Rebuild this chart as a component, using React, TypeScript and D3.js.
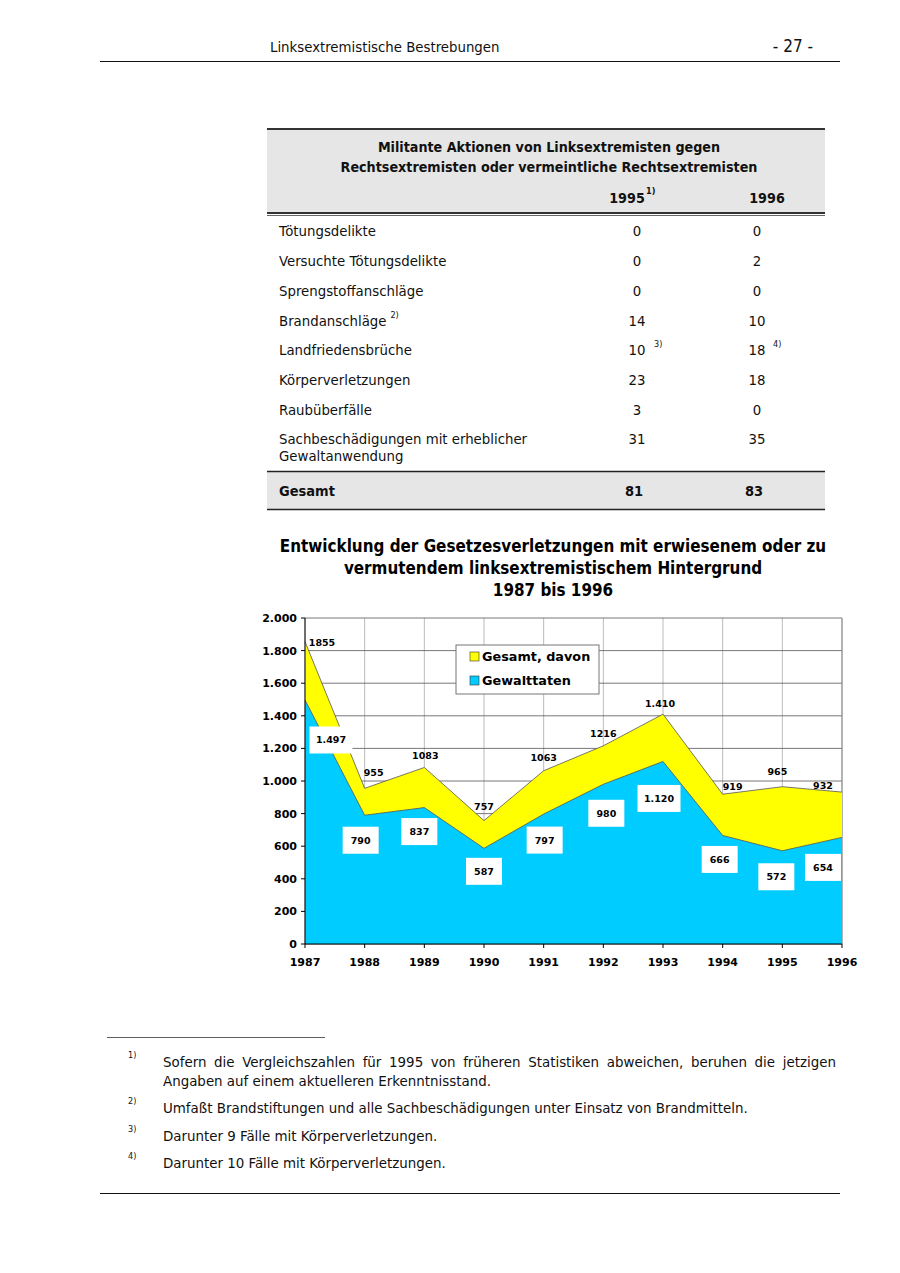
import React from 'react';
import * as d3 from 'd3';

// ---------- data ----------
const years = [1987, 1988, 1989, 1990, 1991, 1992, 1993, 1994, 1995, 1996];
const gesamt = [1855, 955, 1083, 757, 1063, 1216, 1410, 919, 965, 932];
const gewalt = [1497, 790, 837, 587, 797, 980, 1120, 666, 572, 654];
const gesamtLabels = ['1855', '955', '1083', '757', '1063', '1216', '1.410', '919', '965', '932'];
const gewaltLabels = ['1.497', '790', '837', '587', '797', '980', '1.120', '666', '572', '654'];
const yTicks = [0, 200, 400, 600, 800, 1000, 1200, 1400, 1600, 1800, 2000];

const tableRows = [
  ['Tötungsdelikte'],
  ['Versuchte Tötungsdelikte'],
  ['Sprengstoffanschläge'],
  ['Brandanschläge'],
  ['Landfriedensbrüche'],
  ['Körperverletzungen'],
  ['Raubüberfälle'],
  ['Sachbeschädigungen mit erheblicher', 'Gewaltanwendung'],
];
const rowNotes = ['', '', '', '2)', '', '', '', ''];
const v1995 = [0, 0, 0, 14, 10, 23, 3, 31];
const v1996 = [0, 2, 0, 10, 18, 18, 0, 35];
const note1995 = ['', '', '', '', '3)', '', '', ''];
const note1996 = ['', '', '', '', '4)', '', '', ''];
const total1995 = 81;
const total1996 = 83;

const footnotes = [
  ['1)', 'Sofern die Vergleichszahlen für 1995 von früheren Statistiken abweichen, beruhen die jetzigen', 'Angaben auf einem aktuelleren Erkenntnisstand.'],
  ['2)', 'Umfaßt Brandstiftungen und alle Sachbeschädigungen unter Einsatz von Brandmitteln.'],
  ['3)', 'Darunter 9 Fälle mit Körperverletzungen.'],
  ['4)', 'Darunter 10 Fälle mit Körperverletzungen.'],
];

// ---------- style ----------
const FONT = '"DejaVu Sans Condensed", "DejaVu Sans", sans-serif';
const FONTB = '"DejaVu Sans", sans-serif';
const YELLOW = '#FFFF00';
const CYAN = '#00CCFF';
const BODY = 14.8;
const gesamtOffsets = [[17, 1], [9, -16], [1, -12], [0, -14], [0, -13], [0, -12], [-3, -11], [10, -8], [-5, -15], [-19, -7]];
const gewaltOffsets = [[26, 40], [-4, 25], [-5, 24], [0, 23], [1, 26], [3, 29], [-4, 37], [-3, 24], [-6, 26], [-19, 30]];

const de = d3.formatLocale({ decimal: ',', thousands: '.', grouping: [3], currency: ['', '€'] });
const fmt = de.format(',');

function measure(text: string, font: string): number {
  const c = document.createElement('canvas').getContext('2d')!;
  c.font = font;
  return c.measureText(text).width;
}

function Justified({ text, x1, x2, y, font, size }: { text: string; x1: number; x2: number; y: number; font: string; size: number }) {
  const words = text.split(' ');
  const f = `${size}px ${font}`;
  const widths = words.map((w) => measure(w, f));
  const total = widths.reduce((a, b) => a + b, 0);
  const gap = (x2 - x1 - total) / (words.length - 1);
  let cx = x1;
  const xs = widths.map((w) => {
    const p = cx;
    cx += w + gap;
    return p;
  });
  return (
    <text y={y} fontFamily={font} fontSize={size} fill="#111">
      {words.map((w, i) => (
        <tspan key={i} x={xs[i]}>{w}</tspan>
      ))}
    </text>
  );
}

export default function App() {
  const W = 900;
  const H = 1273;
  const x = d3.scalePoint<number>().domain(years).range([305, 842]);
  const y = d3.scaleLinear().domain([0, 2000]).range([944, 618]);

  const area = d3
    .area<number>()
    .x((_, i) => x(years[i])!)
    .y0(y(0))
    .y1((d) => y(d));
  const line = d3
    .line<number>()
    .x((_, i) => x(years[i])!)
    .y((d) => y(d));

  const rowY = [236, 266, 296, 326, 355, 385, 415, 444];
  const col1 = 637;
  const col2 = 757;

  return (
    <div style={{ position: 'absolute', left: 0, top: 0 }}>
      <svg width={W} height={H} style={{ display: 'block', background: '#fff' }}>
        {/* page header */}
        <text x={270} y={52} fontFamily={FONT} fontSize={14.8} fill="#111">Linksextremistische Bestrebungen</text>
        <text x={813} y={52} fontFamily={FONT} fontSize={17} fill="#111" textAnchor="end">- 27 -</text>
        <line x1={100} x2={840} y1={61.5} y2={61.5} stroke="#111" strokeWidth={1.2} />

        {/* table */}
        <rect x={267} y={130} width={558} height={83} fill="#E6E6E6" />
        <line x1={267} x2={825} y1={129} y2={129} stroke="#333" strokeWidth={2} />
        <text x={549} y={152} fontFamily={FONT} fontWeight="bold" fontSize={14.2} textAnchor="middle" fill="#111">Militante Aktionen von Linksextremisten gegen</text>
        <text x={549} y={172} fontFamily={FONT} fontWeight="bold" fontSize={14.2} textAnchor="middle" fill="#111">Rechtsextremisten oder vermeintliche Rechtsextremisten</text>
        <text x={627} y={203} fontFamily={FONT} fontWeight="bold" fontSize={14.2} textAnchor="middle" fill="#111">1995</text>
        <text x={646} y={194} fontFamily={FONT} fontWeight="bold" fontSize={9} fill="#111">1)</text>
        <text x={767} y={203} fontFamily={FONT} fontWeight="bold" fontSize={14.2} textAnchor="middle" fill="#111">1996</text>
        <line x1={267} x2={825} y1={213} y2={213} stroke="#333" strokeWidth={2} />
        <line x1={267} x2={825} y1={215.5} y2={215.5} stroke="#666" strokeWidth={1} />

        {tableRows.map((r, i) => (
          <g key={i}>
            {r.map((t, j) => (
              <text key={j} x={279} y={rowY[i] + j * 17} fontFamily={FONT} fontSize={BODY} fill="#111">{t}</text>
            ))}
            {rowNotes[i] && (
              <text x={279 + measure(r[0], `${BODY}px ${FONT}`) + 4} y={rowY[i] - 8} fontFamily={FONT} fontSize={9} fill="#111">{rowNotes[i]}</text>
            )}
            <text x={col1} y={rowY[i]} fontFamily={FONT} fontSize={BODY} textAnchor="middle" fill="#111">{v1995[i]}</text>
            <text x={col2} y={rowY[i]} fontFamily={FONT} fontSize={BODY} textAnchor="middle" fill="#111">{v1996[i]}</text>
            {note1995[i] && <text x={654} y={rowY[i] - 8} fontFamily={FONT} fontSize={9} fill="#111">{note1995[i]}</text>}
            {note1996[i] && <text x={773} y={rowY[i] - 8} fontFamily={FONT} fontSize={9} fill="#111">{note1996[i]}</text>}
          </g>
        ))}

        <rect x={267} y={472} width={558} height={37} fill="#E6E6E6" />
        <line x1={267} x2={825} y1={471.5} y2={471.5} stroke="#222" strokeWidth={1.5} />
        <line x1={267} x2={825} y1={509.5} y2={509.5} stroke="#222" strokeWidth={1.5} />
        <text x={279} y={496} fontFamily={FONT} fontWeight="bold" fontSize={14.5} fill="#111">Gesamt</text>
        <text x={col1 - 3} y={496} fontFamily={FONT} fontWeight="bold" fontSize={14.5} textAnchor="middle" fill="#111">{total1995}</text>
        <text x={col2 - 3} y={496} fontFamily={FONT} fontWeight="bold" fontSize={14.5} textAnchor="middle" fill="#111">{total1996}</text>

        {/* chart title */}
        <text x={553} y={552} fontFamily={FONT} fontWeight="bold" fontSize={16.9} textAnchor="middle" fill="#000">Entwicklung der Gesetzesverletzungen mit erwiesenem oder zu</text>
        <text x={553} y={574} fontFamily={FONT} fontWeight="bold" fontSize={16.9} textAnchor="middle" fill="#000">vermutendem linksextremistischem Hintergrund</text>
        <text x={553} y={596} fontFamily={FONT} fontWeight="bold" fontSize={16.9} textAnchor="middle" fill="#000">1987 bis 1996</text>

        {/* grid */}
        {years.map((yr) => (
          <line key={yr} x1={x(yr)} x2={x(yr)} y1={618} y2={944} stroke="#aaa" strokeWidth={0.8} />
        ))}
        {yTicks.map((t) => (
          <line key={t} x1={305} x2={842} y1={y(t)} y2={y(t)} stroke="#555" strokeWidth={0.8} />
        ))}
        <line x1={842} x2={842} y1={618} y2={944} stroke="#888" strokeWidth={1} />

        {/* areas */}
        <path d={area(gesamt)!} fill={YELLOW} />
        <path d={line(gesamt)!} fill="none" stroke="#555" strokeWidth={0.8} />
        <path d={area(gewalt)!} fill={CYAN} />
        <path d={line(gewalt)!} fill="none" stroke="#555" strokeWidth={0.8} />

        {/* axes */}
        <line x1={305} x2={305} y1={618} y2={944} stroke="#000" strokeWidth={1} />
        <line x1={305} x2={842} y1={944} y2={944} stroke="#000" strokeWidth={1} />
        {yTicks.map((t) => (
          <g key={t}>
            <line x1={301} x2={305} y1={y(t)} y2={y(t)} stroke="#000" />
            <text x={297} y={y(t) + 4} fontFamily={FONTB} fontWeight="bold" fontSize={11} textAnchor="end" fill="#000">{fmt(t)}</text>
          </g>
        ))}
        {years.map((yr) => (
          <g key={yr}>
            <line x1={x(yr)} x2={x(yr)} y1={944} y2={948} stroke="#000" />
            <text x={x(yr)} y={966} fontFamily={FONTB} fontWeight="bold" fontSize={11} textAnchor="middle" fill="#000">{yr}</text>
          </g>
        ))}

        {/* data labels */}
        {gesamt.map((v, i) => (
          <text key={i} x={x(years[i])! + gesamtOffsets[i][0]} y={y(v) + gesamtOffsets[i][1] + 3.5} fontFamily={FONTB} fontWeight="bold" fontSize={9.5} textAnchor="middle" fill="#000">{gesamtLabels[i]}</text>
        ))}
        {gewalt.map((v, i) => {
          const cx = x(years[i])! + gewaltOffsets[i][0];
          const cy = y(v) + gewaltOffsets[i][1];
          const bw = gewaltLabels[i].length > 3 ? 43 : 36;
          return (
            <g key={i}>
              <rect x={cx - bw / 2} y={cy - 13.5} width={bw} height={27} fill="#fff" />
              <text x={cx} y={cy + 3.5} fontFamily={FONTB} fontWeight="bold" fontSize={9.5} textAnchor="middle" fill="#000">{gewaltLabels[i]}</text>
            </g>
          );
        })}

        {/* legend */}
        <rect x={456} y={645} width={143} height={49} fill="#fff" stroke="#777" strokeWidth={1} />
        <rect x={470} y={652} width={9} height={9} fill={YELLOW} stroke="#333" strokeWidth={0.6} />
        <text x={482} y={661} fontFamily={FONTB} fontWeight="bold" fontSize={12.8} fill="#000">Gesamt, davon</text>
        <rect x={470} y={676} width={9} height={9} fill={CYAN} stroke="#333" strokeWidth={0.6} />
        <text x={482} y={685} fontFamily={FONTB} fontWeight="bold" fontSize={12.8} fill="#000">Gewalttaten</text>

        {/* footnotes */}
        <line x1={107} x2={325} y1={1037.5} y2={1037.5} stroke="#333" strokeWidth={0.8} />
        {(() => {
          const base = [1067, 1113, 1141, 1168];
          return footnotes.map((f, i) => (
            <g key={i}>
              <text x={128} y={base[i] - 9} fontFamily={FONT} fontSize={9} fill="#111">{f[0]}</text>
              {f.length > 2 ? (
                <>
                  <Justified text={f[1]} x1={163} x2={836} y={base[i]} font={FONT} size={14.9} />
                  <text x={163} y={base[i] + 19} fontFamily={FONT} fontSize={14.9} fill="#111">{f[2]}</text>
                </>
              ) : (
                <text x={163} y={base[i]} fontFamily={FONT} fontSize={14.9} fill="#111">{f[1]}</text>
              )}
            </g>
          ));
        })()}
        <line x1={100} x2={840} y1={1193.5} y2={1193.5} stroke="#111" strokeWidth={1.2} />
      </svg>
    </div>
  );
}
